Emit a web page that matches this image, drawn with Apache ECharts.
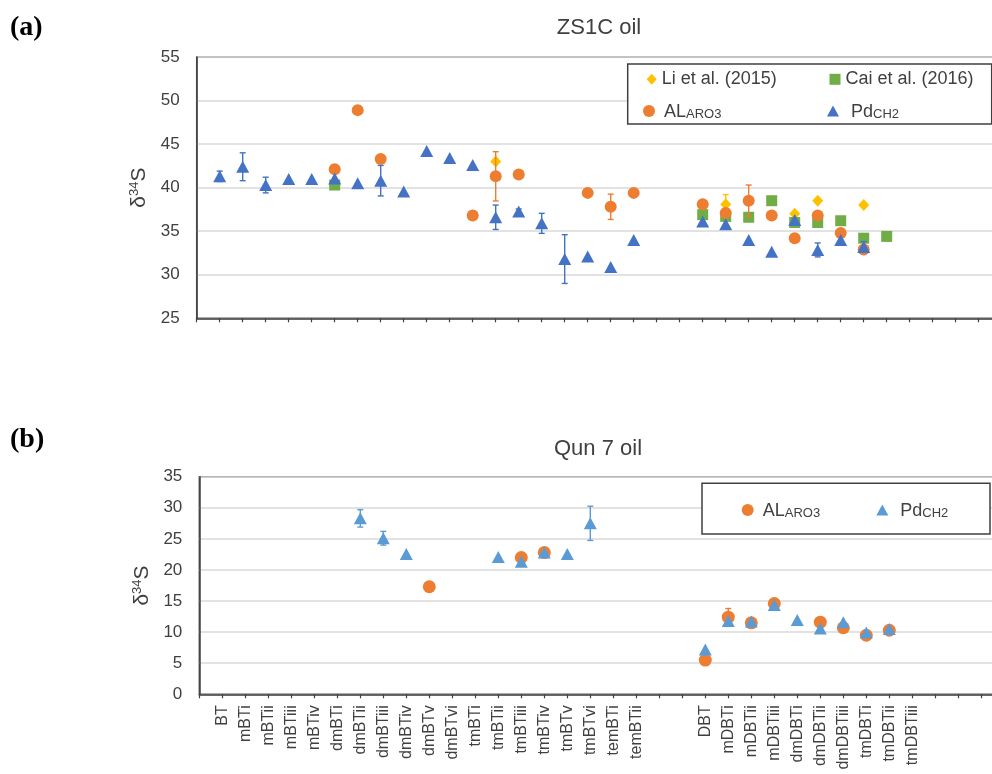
<!DOCTYPE html>
<html>
<head>
<meta charset="utf-8">
<script src="https://cdn.jsdelivr.net/npm/echarts@6/dist/echarts.min.js"></script>
<style>
html,body{margin:0;padding:0;background:#fff;}
#c{width:992px;height:774px;}
</style>
</head>
<body>
<div id="c"></div>
<script>
const N = null;
// Category axis (leading/trailing blanks are empty tick positions)
const categories = ['', 'BT','mBTi','mBTii','mBTiii','mBTiv',
  'dmBTi','dmBTii','dmBTiii','dmBTiv','dmBTv','dmBTvi',
  'tmBTi','tmBTii','tmBTiii','tmBTiv','tmBTv','tmBTvi','temBTi','temBTii',
  '','',
  'DBT','mDBTi','mDBTii','mDBTiii','dmDBTi','dmDBTii','dmDBTiii','tmDBTi','tmDBTii','tmDBTiii',
  '','','',''];

// Panel (a) ZS1C oil
const aLi     = [N, N,N,N,N,N, N,N,N,N,N,N, N,43.0,N,N,N,N,N,N, N,N, N,38.1,N,N,37.0,38.5,N,38.0,N,N, N,N,N,N];
const aLiErr  = [N, N,N,N,N,N, N,N,N,N,N,N, N,N,N,N,N,N,N,N, N,N, N,1.1,N,N,N,N,N,N,N,N, N,N,N,N];
const aCai    = [N, N,N,N,N,N, 40.3,N,N,N,N,N, N,N,N,N,N,N,N,N, N,N, 36.9,36.7,36.6,38.5,36.0,36.0,36.2,34.2,34.4,N, N,N,N,N];
const aAL     = [N, N,N,N,N,N, 42.1,48.9,43.3,N,N,N, 36.8,41.3,41.5,N,N,39.4,37.8,39.4, N,N, 38.1,37.1,38.5,36.8,34.2,36.8,34.8,32.9,N,N, N,N,N,N];
const aALErr  = [N, N,N,N,N,N, N,N,N,N,N,N, N,2.83,N,N,N,N,1.45,N, N,N, N,N,1.8,N,N,N,N,N,N,N, N,N,N,N];
const aPd     = [N, 41.3,42.4,40.3,41.0,41.0, 41.05,40.5,40.8,39.55,44.2,43.4, 42.6,36.6,37.25,35.9,31.8,32.1,30.9,34.0, N,N, 36.1,35.8,34.0,32.65,36.3,32.85,34.0,33.2,N,N, N,N,N,N];
const aPdErr  = [N, 0.6,1.6,0.9,N,N, N,N,1.75,N,N,N, N,1.4,0.3,1.15,2.8,N,N,N, N,N, N,N,N,N,N,0.8,N,0.6,N,N, N,N,N,N];

// Panel (b) Qun 7 oil
const bAL     = [N, N,N,N,N,N, N,N,N,N,17.3,N, N,N,22.0,22.8,N,N,N,N, N,N, 5.5,12.4,11.5,14.6,N,11.6,10.7,9.5,10.3,N, N,N,N,N];
const bALErr  = [N, N,N,N,N,N, N,N,N,N,N,N, N,N,N,N,N,N,N,N, N,N, N,1.4,N,N,N,N,N,N,N,N, N,N,N,N];
const bPd     = [N, N,N,N,N,N, N,28.3,25.1,22.55,N,N, N,22.1,21.3,22.8,22.55,27.5,N,N, N,N, 7.2,11.8,11.7,14.35,11.95,10.6,11.6,9.95,10.5,N, N,N,N,N];
const bPdErr  = [N, N,N,N,N,N, N,1.4,1.1,N,N,N, N,N,N,N,N,2.75,N,N, N,N, N,N,N,N,N,N,N,N,N,N, N,N,N,N];

const aTicks = [25, 30, 35, 40, 45, 50, 55];
const bTicks = [0, 5, 10, 15, 20, 25, 30, 35];

const C_BLUE_A = '#4472C4', C_BLUE_B = '#5B9BD5', C_OR = '#ED7D31', C_GR = '#70AD47', C_YE = '#FFC000';
const FONT = 'Liberation Sans, Arial, sans-serif';
const TXT = '#404040';

function pts(vals) { const r = []; vals.forEach((v, i) => { if (v !== null) r.push([i, v]); }); return r; }
function errPts(vals, errs) { const r = []; errs.forEach((e, i) => { if (e !== null && vals[i] !== null) r.push([i, vals[i], e]); }); return r; }

function errSeries(vals, errs, color, gi) {
  return {
    type: 'custom', xAxisIndex: gi, yAxisIndex: gi, z: 3, clip: false, silent: true,
    itemStyle: { color: color },
    encode: { x: 0, y: 1 },
    data: errPts(vals, errs),
    renderItem: function (params, api) {
      const x = api.value(0), v = api.value(1), e = api.value(2);
      const t = api.coord([x, v + e]), b = api.coord([x, v - e]);
      const cap = 3, st = { stroke: color, lineWidth: 1.4 };
      return { type: 'group', children: [
        { type: 'line', shape: { x1: t[0], y1: t[1], x2: b[0], y2: b[1] }, style: st },
        { type: 'line', shape: { x1: t[0] - cap, y1: t[1], x2: t[0] + cap, y2: t[1] }, style: st },
        { type: 'line', shape: { x1: b[0] - cap, y1: b[1], x2: b[0] + cap, y2: b[1] }, style: st }
      ]};
    }
  };
}
function scat(name, vals, color, symbol, size, gi, z) {
  return { name: name, type: 'scatter', xAxisIndex: gi, yAxisIndex: gi, z: z,
    symbol: symbol, symbolSize: size, itemStyle: { color: color, opacity: 1 },
    data: pts(vals) };
}

const rich = {
  m: { fontSize: 18, lineHeight: 20, verticalAlign: 'bottom', color: TXT, fontFamily: FONT },
  p: { fontSize: 18, lineHeight: 20, verticalAlign: 'bottom', color: TXT, fontFamily: FONT, padding: [0, 0, 0, 7] },
  s: { fontSize: 13, lineHeight: 10, verticalAlign: 'bottom', color: TXT, fontFamily: FONT }
};
const labelMap = {
  aLi: 'Li et al. (2015)', aCai: 'Cai et al. (2016)',
  aAL: '{m|AL}{s|ARO3}', aPd: '{p|Pd}{s|CH2}',
  bAL: '{m|AL}{s|ARO3}', bPd: '{p|Pd}{s|CH2}'
};
function leg(name, icon, w, h, left, top) {
  return { data: [{ name: name, icon: icon }], left: left, top: top, padding: 0,
    itemWidth: w, itemHeight: h, selectedMode: false, z: 6,
    formatter: n => labelMap[n],
    textStyle: { fontSize: 18, lineHeight: 20, color: TXT, fontFamily: FONT, rich: rich } };
}

const nameRich = {
  a: { fontSize: 21, lineHeight: 22, verticalAlign: 'bottom', color: TXT, fontFamily: FONT },
  b: { fontSize: 13, lineHeight: 13, verticalAlign: 'top', color: TXT, fontFamily: FONT }
};

function yAx(gi, min, max, gap) {
  return { type: 'value', gridIndex: gi, min: min, max: max, interval: 5,
    name: '{a|δ}{b|34}{a|S}', nameLocation: 'middle', nameRotate: 90, nameGap: gap,
    nameTextStyle: { rich: nameRich },
    axisLine: { show: true, lineStyle: { color: '#404040', width: 1.5 } },
    axisTick: { show: false },
    axisLabel: { fontSize: 17, color: TXT, fontFamily: FONT, margin: 17 },
    splitLine: { show: true, lineStyle: { color: '#D9D9D9', width: 1.5 } } };
}
function xAx(gi, showLabels) {
  return { type: 'category', gridIndex: gi, data: categories, boundaryGap: false,
    axisLine: { show: true, lineStyle: { color: '#404040', width: 1.5 } },
    axisTick: { show: true, length: 4, inside: false, interval: 0, lineStyle: { color: '#404040', width: 1.2 } },
    axisLabel: { show: showLabels, interval: 0, rotate: 90, fontSize: 16, color: TXT, fontFamily: FONT, margin: 11 },
    splitLine: { show: false } };
}

const chart = echarts.init(document.getElementById('c'), null, { renderer: 'canvas' });
chart.setOption({
  animation: false,
  backgroundColor: '#fff',
  title: [
    { text: '(a)', left: 5, top: 9, textStyle: { fontFamily: 'Liberation Serif, Times New Roman, serif', fontWeight: 'bold', fontSize: 28, color: '#000' } },
    { text: '(b)', left: 5, top: 421, textStyle: { fontFamily: 'Liberation Serif, Times New Roman, serif', fontWeight: 'bold', fontSize: 28, color: '#000' } },
    { text: 'ZS1C oil', left: 594, top: 12, textAlign: 'center', textStyle: { fontFamily: FONT, fontWeight: 'normal', fontSize: 22, color: TXT } },
    { text: 'Qun 7 oil', left: 593, top: 433, textAlign: 'center', textStyle: { fontFamily: FONT, fontWeight: 'normal', fontSize: 22, color: TXT } }
  ],
  grid: [
    { left: 196.7, top: 57, width: 805, height: 261.3, show: true, borderColor: '#595959', borderWidth: 1.5, backgroundColor: 'transparent', outerBoundsMode: 'none', containLabel: false },
    { left: 199.3, top: 476.7, width: 805, height: 217.6, show: true, borderColor: '#595959', borderWidth: 1.5, backgroundColor: 'transparent', outerBoundsMode: 'none', containLabel: false }
  ],
  xAxis: [xAx(0, false), xAx(1, true)],
  yAxis: [yAx(0, aTicks[0], aTicks[aTicks.length - 1], 43), yAx(1, bTicks[0], bTicks[bTicks.length - 1], 41)],
  graphic: [
    { type: 'rect', z: 5, shape: { x: 627.7, y: 64, width: 364, height: 60 }, style: { fill: '#fff', stroke: '#404040', lineWidth: 1.5 } },
    { type: 'rect', z: 5, shape: { x: 702, y: 483.3, width: 288, height: 50.7 }, style: { fill: '#fff', stroke: '#404040', lineWidth: 1.5 } }
  ],
  legend: [
    leg('aLi', 'diamond', 10, 11, 646.7, 69.3),
    leg('aCai', 'rect', 11, 11, 829.5, 69.3),
    leg('aAL', 'circle', 20, 12, 643, 101),
    leg('aPd', 'triangle', 12, 11, 827, 101),
    leg('bAL', 'circle', 20, 12, 741.7, 500),
    leg('bPd', 'triangle', 12, 11, 876.3, 500)
  ],
  series: [
    scat('aLi', aLi, C_YE, 'diamond', [11, 12], 0, 2),
    scat('aCai', aCai, C_GR, 'rect', 11, 0, 2),
    scat('aAL', aAL, C_OR, 'circle', 12, 0, 3),
    scat('aPd', aPd, C_BLUE_A, 'triangle', [13, 12], 0, 4),
    errSeries(aLi, aLiErr, C_YE, 0),
    errSeries(aAL, aALErr, C_OR, 0),
    errSeries(aPd, aPdErr, C_BLUE_A, 0),
    scat('bAL', bAL, C_OR, 'circle', 13, 1, 3),
    scat('bPd', bPd, C_BLUE_B, 'triangle', [13, 12], 1, 4),
    errSeries(bAL, bALErr, C_OR, 1),
    errSeries(bPd, bPdErr, C_BLUE_B, 1)
  ]
});
</script>
</body>
</html>
